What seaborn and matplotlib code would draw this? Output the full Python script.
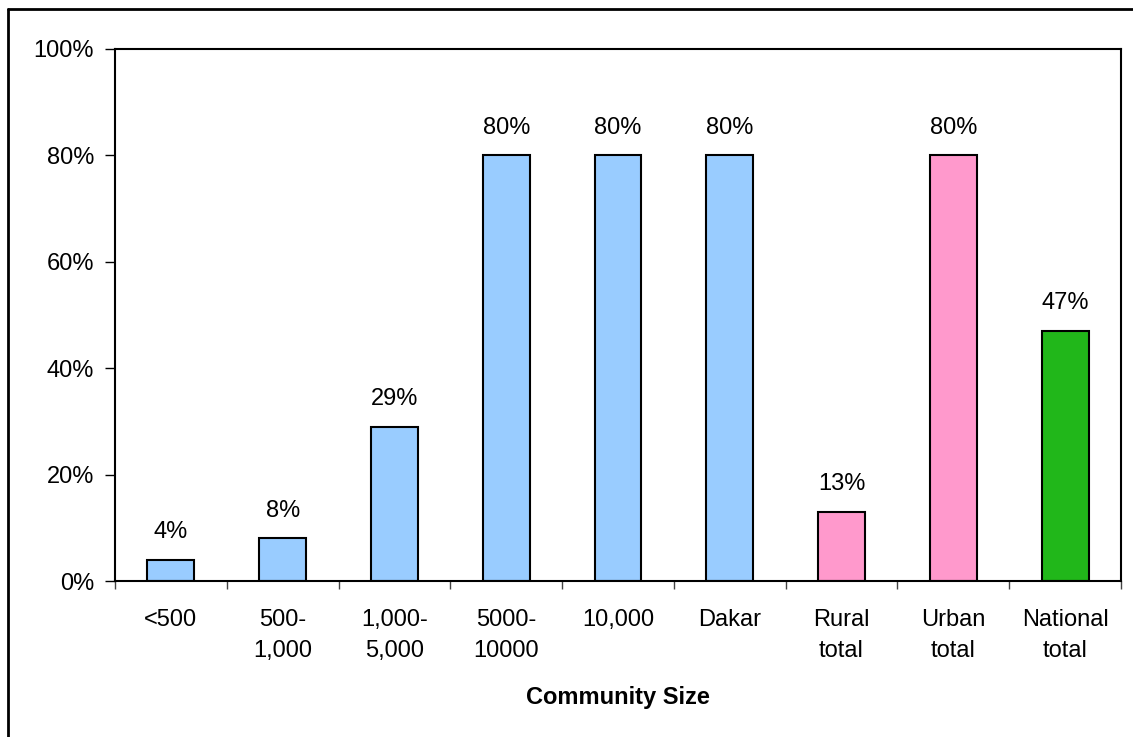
import matplotlib
matplotlib.use("Agg")
import matplotlib.pyplot as plt
import seaborn as sns
import pandas as pd
import numpy as np
from matplotlib.lines import Line2D
from matplotlib.ticker import FixedLocator

categories = ["<500", "500-\n1,000", "1,000-\n5,000", "5000-\n10000", "10,000", "Dakar",
              "Rural\ntotal", "Urban\ntotal", "National\ntotal"]
values = [4, 8, 29, 80, 80, 80, 13, 80, 47]
colors = ["#99CCFF"] * 6 + ["#FF99CC", "#FF99CC", "#21B71A"]
yticks = [0, 20, 40, 60, 80, 100]
xlabel = "Community Size"

sns.set_theme(style="white")
plt.rcParams["font.family"] = ["Liberation Sans", "DejaVu Sans"]
plt.rcParams["text.color"] = "black"
plt.rcParams["xtick.color"] = "black"
plt.rcParams["ytick.color"] = "black"
plt.rcParams["axes.labelcolor"] = "black"

FS = 17

df = pd.DataFrame({"cat": categories, "val": values})

fig = plt.figure(figsize=(11.33, 7.37), dpi=100)
ax = fig.add_axes([115/1133, 1-581/737, (1121-115)/1133, (581-49)/737])

sns.barplot(data=df, x="cat", y="val", hue="cat", palette=colors, legend=False,
            width=0.42, edgecolor="black", linewidth=1.5, saturation=1, ax=ax)

ax.set_xlim(-0.5, len(categories) - 0.5)
ax.set_ylim(0, 100)
ax.set_yticks(yticks)
ax.set_yticklabels([f"{v}%" for v in yticks], fontsize=FS)
ax.tick_params(axis="y", direction="out", length=7, width=1, color="black", left=True, pad=8)

ax.set_xticks(range(len(categories)))
ax.set_xticklabels(categories, fontsize=FS, linespacing=1.55)
ax.tick_params(axis="x", which="major", length=0, pad=20)
ax.xaxis.set_minor_locator(FixedLocator(np.arange(-0.5, len(categories), 1.0)))
ax.tick_params(axis="x", which="minor", direction="out", length=6, width=1, color="#444444", bottom=True)

for s in ax.spines.values():
    s.set_visible(True)
    s.set_color("black")
    s.set_linewidth(1.5)

for i, v in enumerate(values):
    ax.annotate(f"{v}%", (i, v), xytext=(0, 12), textcoords="offset points",
                ha="center", va="bottom", fontsize=FS, color="black")

ax.set_xlabel(xlabel, fontsize=FS, fontweight="bold", labelpad=17)
ax.set_ylabel("")

# figure frame (left and top edges visible)
fig.add_artist(Line2D([8/1133, 8/1133], [0, 1-9/737], transform=fig.transFigure, color="black", lw=2))
fig.add_artist(Line2D([8/1133, 1], [1-9/737, 1-9/737], transform=fig.transFigure, color="black", lw=2))

fig.savefig("out.png", dpi=100)
